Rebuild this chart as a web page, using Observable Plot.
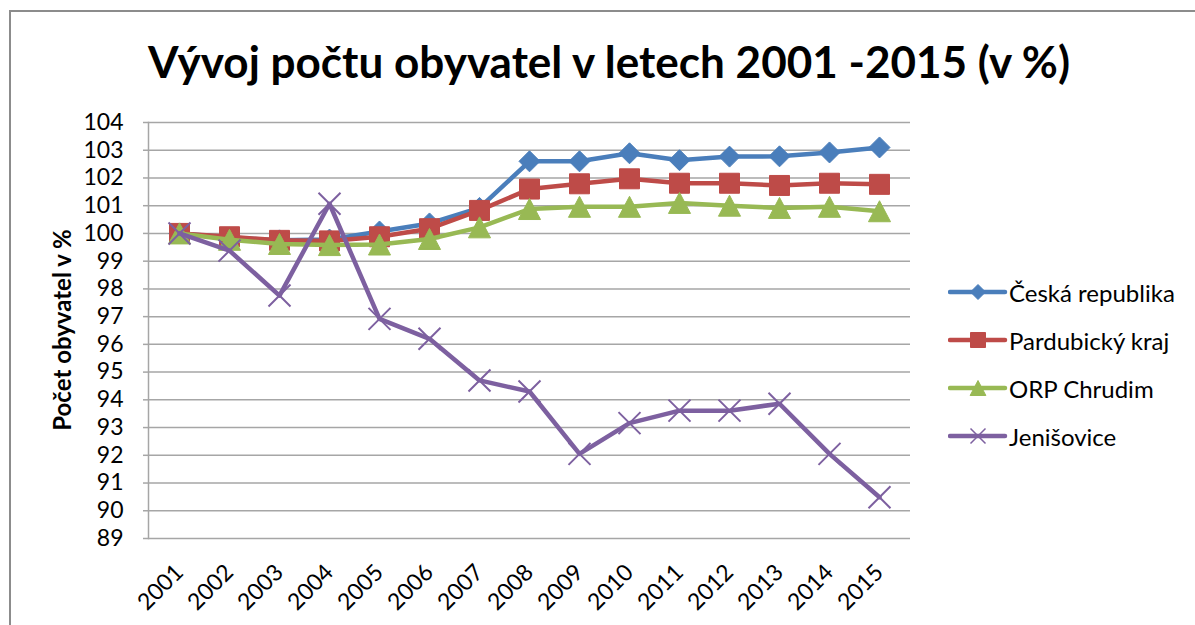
<!DOCTYPE html>
<html>
<head>
<meta charset="utf-8">
<script src="https://cdn.jsdelivr.net/npm/d3@7"></script>
<script src="https://cdn.jsdelivr.net/npm/@observablehq/plot@0.6"></script>
<style>
  html, body { margin: 0; padding: 0; background: #fff; }
  body { width: 1195px; height: 625px; overflow: hidden; position: relative; font-family: Lato, "Open Sans", sans-serif; }
  #frame { position: absolute; left: 9px; top: 10px; width: 1250px; height: 700px; border: 2px solid #8c8c8c; box-sizing: border-box; }
  #title { position: absolute; left: 0; top: 0; }
  #chart { position: absolute; left: 0; top: 110px; }
  #ylabel { position: absolute; left: 61px; top: 330px; transform: translate(-50%, -50%) rotate(-90deg); white-space: nowrap; font-weight: bold; font-size: 24px; color: #000; }
  #legend { position: absolute; left: 948px; top: 268px; }
  .item { display: flex; align-items: center; height: 48px; }
  .item span { font-size: 24px; color: #000; margin-left: 1px; }
</style>
</head>
<body>
<div id="frame"></div>
<svg id="title" width="1195" height="110"></svg>
<div id="chart"></div>
<div id="ylabel">Počet obyvatel v %</div>
<div id="legend"></div>
<script>
// ---- data ----
const years = ["2001","2002","2003","2004","2005","2006","2007","2008","2009","2010","2011","2012","2013","2014","2015"];
const seriesNames = ["Česká republika", "Pardubický kraj", "ORP Chrudim", "Jenišovice"];
const ceskaRepublika = [100, 99.85, 99.75, 99.78, 100.07, 100.36, 100.92, 102.6, 102.6, 102.89, 102.64, 102.77, 102.78, 102.92, 103.1];
const pardubickyKraj = [100, 99.88, 99.75, 99.73, 99.88, 100.17, 100.83, 101.6, 101.79, 101.97, 101.81, 101.81, 101.73, 101.81, 101.77];
const orpChrudim     = [100, 99.77, 99.62, 99.58, 99.6, 99.8, 100.22, 100.88, 100.96, 100.96, 101.1, 101.0, 100.92, 100.96, 100.8];
const jenisovice     = [100, 99.38, 97.76, 101.07, 96.92, 96.2, 94.7, 94.3, 92.05, 93.16, 93.61, 93.61, 93.86, 92.05, 90.49];
const yTicks = [89,90,91,92,93,94,95,96,97,98,99,100,101,102,103,104];
const titleText = "Vývoj počtu obyvatel v letech 2001 -2015 (v %)";

const colors = ["#4a7ebb", "#be4b48", "#98b954", "#7d60a0"];
const allValues = [ceskaRepublika, pardubickyKraj, orpChrudim, jenisovice];

// custom symbols (r = sqrt(size/PI) = half-width)
const half = size => Math.sqrt(size / Math.PI);
const symDiamond = { draw(c, s) { const h = half(s); c.moveTo(0,-h); c.lineTo(h,0); c.lineTo(0,h); c.lineTo(-h,0); c.closePath(); } };
const symSquare = { draw(c, s) { const h = half(s); c.rect(-h,-h,2*h,2*h); } };
const symTriangle = { draw(c, s) { const h = half(s); c.moveTo(0,-h); c.lineTo(h*1.05,h); c.lineTo(-h*1.05,h); c.closePath(); } };
const symX = { draw(c, s) { const h = half(s); c.moveTo(-h,-h); c.lineTo(h,h); c.moveTo(-h,h); c.lineTo(h,-h); } };
const symbols = [symDiamond, symSquare, symTriangle, symX];
const sizes = [10.5, 10, 10.5, 11];

// ---- title ----
const tsvg = d3.select("#title");
tsvg.append("text")
  .attr("x", 148).attr("y", 78)
  .attr("textLength", 922).attr("lengthAdjust", "spacingAndGlyphs")
  .attr("font-family", "Lato, 'Open Sans', sans-serif")
  .attr("font-weight", "bold").attr("font-size", 43)
  .attr("fill", "#000")
  .text(titleText);

// ---- chart ----
const marks = [
  Plot.gridY(yTicks, {stroke: "#a6a6a6", strokeOpacity: 1, strokeWidth: 1.5}),
  Plot.frame({anchor: "left", stroke: "#a6a6a6", strokeWidth: 1.5}),
  Plot.axisY(yTicks, {tickSize: 5, tickPadding: 20, stroke: "#a6a6a6", strokeWidth: 1.5, fill: "#000", fontSize: 23, label: null}),
  Plot.axisX(years, {tickSize: 0, tickPadding: 30, tickRotate: -45, fill: "#000", fontSize: 23, label: null})
];
allValues.forEach((vals, i) => {
  const rows = years.map((y, j) => ({year: y, value: vals[j], series: seriesNames[i]}));
  marks.push(Plot.line(rows, {x: "year", y: "value", stroke: colors[i], strokeWidth: 4.5, strokeLinejoin: "round"}));
  if (i === 3) {
    marks.push(Plot.dot(rows, {x: "year", y: "value", symbol: () => symbols[i], r: sizes[i], fill: "none", stroke: colors[i], strokeWidth: 2}));
  } else {
    marks.push(Plot.dot(rows, {x: "year", y: "value", symbol: () => symbols[i], r: sizes[i], fill: colors[i], stroke: colors[i], strokeWidth: 1}));
  }
});

const chart = Plot.plot({
  width: 1195,
  height: 515,
  marginTop: 12,
  marginBottom: 87,
  marginLeft: 148,
  marginRight: 285,
  style: {fontFamily: "Lato, 'Open Sans', sans-serif", color: "#000", background: "transparent", overflow: "visible"},
  x: {type: "point", domain: years, padding: 0.5},
  y: {domain: [89, 104]},
  symbol: {type: "identity"},
  marks
});
document.getElementById("chart").appendChild(chart);

// ---- legend ----
const legend = d3.select("#legend");
seriesNames.forEach((name, i) => {
  const item = legend.append("div").attr("class", "item");
  const s = item.append("svg").attr("width", 60).attr("height", 24);
  s.append("line").attr("x1", 2).attr("x2", 57).attr("y1", 12).attr("y2", 12)
    .attr("stroke", colors[i]).attr("stroke-width", 4.5).attr("stroke-linecap", "round");
  const p = d3.path();
  symbols[i].draw(p, Math.PI * 7.5 * 7.5);
  s.append("path").attr("d", p.toString()).attr("transform", "translate(30,12)")
    .attr("fill", i === 3 ? "none" : colors[i]).attr("stroke", colors[i]).attr("stroke-width", i === 3 ? 1.5 : 1);
  item.append("span").text(name);
});
</script>
</body>
</html>
